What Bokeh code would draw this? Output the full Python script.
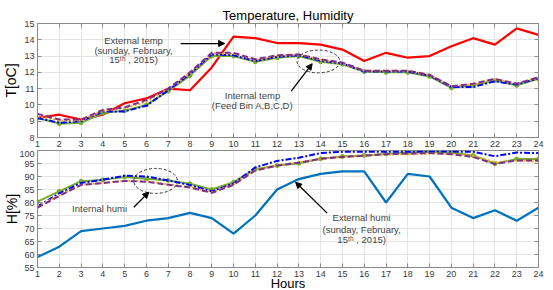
from bokeh.plotting import figure
from bokeh.layouts import column
from bokeh.models import Arrow, NormalHead, LinearAxis, FixedTicker, Range1d, Label
from bokeh.embed import file_html
from bokeh.resources import INLINE

hours = [1, 2, 3, 4, 5, 6, 7, 8, 9, 10, 11, 12, 13, 14, 15, 16, 17, 18, 19, 20, 21, 22, 23, 24]

# Temperature [oC]
t_ext = [9.2, 9.4, 9.1, 9.4, 10.1, 10.4, 11.0, 10.9, 12.3, 14.2, 14.1, 13.8,
         13.8, 13.7, 13.4, 12.7, 13.2, 12.9, 13.0, 13.6, 14.1, 13.7, 14.7, 14.3]
t_bin_a = [9.2, 8.9, 9.0, 9.6, 9.6, 9.95, 10.9, 11.9, 13.1, 13.05, 12.7, 12.95,
           13.05, 12.7, 12.55, 12.05, 12.05, 12.05, 11.8, 11.1, 11.1, 11.45, 11.25, 11.65]
t_bin_b = [9.45, 9.1, 9.1, 9.7, 9.85, 10.3, 11.0, 12.0, 13.2, 13.2, 12.8, 13.05,
           13.1, 12.8, 12.6, 12.1, 12.1, 12.1, 11.85, 11.15, 11.3, 11.6, 11.3, 11.7]
t_bin_c = [9.3, 9.05, 9.05, 9.65, 9.8, 10.2, 11.0, 11.95, 13.15, 13.15, 12.75, 13.0,
           13.1, 12.75, 12.55, 12.1, 12.1, 12.1, 11.85, 11.15, 11.25, 11.6, 11.3, 11.7]
t_bin_d = [9.2, 8.85, 8.9, 9.5, 9.65, 10.0, 10.85, 11.8, 13.0, 13.0, 12.65, 12.9,
           13.0, 12.65, 12.5, 12.05, 12.0, 12.0, 11.75, 11.05, 11.2, 11.5, 11.2, 11.6]

# Humidity [%]
h_ext = [59, 63, 69, 70, 71, 73, 74, 76, 74, 68, 75, 85,
         89, 91, 92, 92, 80, 91, 90, 78, 74, 77, 73, 78]
h_bin_a = [78.5, 83.5, 87.5, 88.8, 90.3, 90.0, 88.5, 86.7, 84.3, 87.3, 93.5, 96.0,
           97.2, 99.0, 99.5, 99.5, 99.5, 99.5, 99.6, 99.6, 99.5, 97.8, 99.2, 99.0]
h_bin_b = [78.0, 82.5, 86.8, 87.5, 88.3, 88.0, 86.8, 85.8, 83.7, 86.8, 92.3, 94.2,
           95.3, 96.8, 97.5, 98.0, 98.6, 98.8, 99.0, 98.6, 97.5, 94.8, 96.2, 96.2]
h_bin_c = [78.5, 82.8, 86.8, 87.5, 88.3, 88.2, 87.0, 86.0, 84.0, 87.0, 92.5, 94.3,
           95.5, 96.8, 97.5, 98.0, 98.5, 98.5, 98.8, 98.6, 98.0, 95.5, 96.0, 95.8]
h_bin_d = [80.3, 84.3, 88.2, 88.7, 89.8, 89.1, 88.5, 87.2, 85.0, 87.8, 92.8, 94.2,
           95.1, 96.8, 97.7, 98.1, 98.7, 99.2, 99.5, 99.2, 98.1, 94.9, 96.7, 96.7]

temp_ticks = [8, 9, 10, 11, 12, 13, 14, 15]
humi_ticks = [55, 60, 65, 70, 75, 80, 85, 90, 95, 100]

RED = "#ff0000"
BLUE = "#0000ff"
PURPLE = "#7e2f8e"
ORANGE = "#edb120"
GREEN = "#77ac30"
EXT_H = "#0072bd"
AX = "#8a8a8a"
TXT = "#3a3a3a"
ANN = "#444444"
FONT = "Liberation Sans"


def make_fig(ymin, ymax, yticks, frame_h, top, bottom, ylabel, ylabel_standoff, top_axis):
    p = figure(frame_width=501, frame_height=frame_h,
               x_range=Range1d(1, 24), y_range=Range1d(ymin, ymax),
               output_backend="svg", toolbar_location=None,
               min_border_left=37, min_border_right=15,
               min_border_top=top, min_border_bottom=bottom,
               background_fill_color="white", border_fill_color="white")
    p.outline_line_color = AX
    p.xaxis.ticker = FixedTicker(ticks=hours)
    p.yaxis.ticker = FixedTicker(ticks=yticks)
    p.xgrid.ticker = FixedTicker(ticks=hours)
    p.ygrid.ticker = FixedTicker(ticks=yticks)
    p.grid.grid_line_color = "#e4e4e4"
    p.add_layout(LinearAxis(ticker=FixedTicker(ticks=yticks),
                            major_label_overrides={t: "" for t in yticks}), "right")
    if top_axis:
        p.add_layout(LinearAxis(ticker=FixedTicker(ticks=hours),
                                major_label_overrides={t: "" for t in hours}), "above")
    for ax in p.axis:
        ax.major_tick_in = 4
        ax.major_tick_out = 0
        ax.minor_tick_line_color = None
        ax.axis_line_color = AX
        ax.major_tick_line_color = AX
        ax.major_label_text_font = FONT
        ax.major_label_text_font_size = "9px"
        ax.major_label_text_color = TXT
        ax.major_label_standoff = 3
    for ax in p.right + p.above:
        ax.major_label_standoff = 0
    yax = p.left[0]
    yax.axis_label = ylabel
    yax.axis_label_text_font = FONT
    yax.axis_label_text_font_size = "14px"
    yax.axis_label_text_font_style = "normal"
    yax.axis_label_text_color = "black"
    yax.axis_label_standoff = ylabel_standoff
    return p


def draw_series(p, ext, ext_color, a, b, c, d):
    p.line(hours, ext, line_color=ext_color, line_width=2.2)
    p.line(hours, d, line_color=GREEN, line_width=2)
    p.scatter(hours, d, marker="circle", size=4, color=GREEN)
    p.line(hours, a, line_color=BLUE, line_width=2, line_dash="6 2 2 2")
    p.line(hours, c, line_color=ORANGE, line_width=2, line_dash="2 2")
    p.line(hours, b, line_color=PURPLE, line_width=2, line_dash="6 3")


def ann(p, x, y, text, size="9.5px"):
    p.add_layout(Label(x=x, y=y, text=text, text_font=FONT, text_font_size=size,
                       text_color=ANN, text_align="center", text_baseline="middle"))


def arrow(p, x0, y0, x1, y1):
    p.add_layout(Arrow(end=NormalHead(size=6, fill_color="black", line_color="black"),
                       x_start=x0, y_start=y0, x_end=x1, y_end=y1,
                       line_color="black", line_width=1.3))


# ---- Temperature panel
p1 = make_fig(8, 15, temp_ticks, 114, 23, 13, "T[oC]", 2, True)
p1.title.text = "Temperature, Humidity"
p1.title.align = "center"
p1.title.text_font = FONT
p1.title.text_font_size = "13px"
p1.title.text_font_style = "normal"
p1.title.text_color = "black"
p1.title.standoff = 2
draw_series(p1, t_ext, RED, t_bin_a, t_bin_b, t_bin_c, t_bin_d)
ann(p1, 5.41, 13.96, "External temp")
ann(p1, 5.41, 13.34, "(sunday, February,")
ann(p1, 5.41, 12.79, "15ᵗʰ , 2015)")
arrow(p1, 7.57, 13.77, 9.59, 13.77)
ann(p1, 10.87, 10.58, "Internal temp")
ann(p1, 10.87, 9.97, "(Feed Bin A,B,C,D)")
arrow(p1, 12.65, 10.85, 13.61, 12.53)
p1.ellipse(x=[13.9], y=[12.67], width=[1.97], height=[1.4], fill_color=None,
           line_color="#333333", line_dash="3 2", line_width=1)

# ---- Humidity panel
p2 = make_fig(55, 100, humi_ticks, 117, 0, 23, "H[%]", -4, False)
xax = p2.below[0]
xax.axis_label = "Hours"
xax.axis_label_text_font = FONT
xax.axis_label_text_font_size = "13px"
xax.axis_label_text_font_style = "normal"
xax.axis_label_text_color = "black"
xax.axis_label_standoff = -4
draw_series(p2, h_ext, EXT_H, h_bin_a, h_bin_b, h_bin_c, h_bin_d)
ann(p2, 3.85, 77.7, "Internal humi")
arrow(p2, 5.42, 78.2, 6.11, 84.0)
p2.ellipse(x=[6.42], y=[88.3], width=[2.0], height=[9.6], fill_color=None,
           line_color="#333333", line_dash="3 2", line_width=1)
ann(p2, 15.88, 74.2, "External humi")
ann(p2, 15.88, 69.6, "(sunday, February,")
ann(p2, 15.88, 65.8, "15ᵗʰ , 2015)")
arrow(p2, 14.30, 75.9, 12.85, 87.8)

layout = column(p1, p2, spacing=0)
open("out.html", "w").write(file_html(layout, INLINE))
